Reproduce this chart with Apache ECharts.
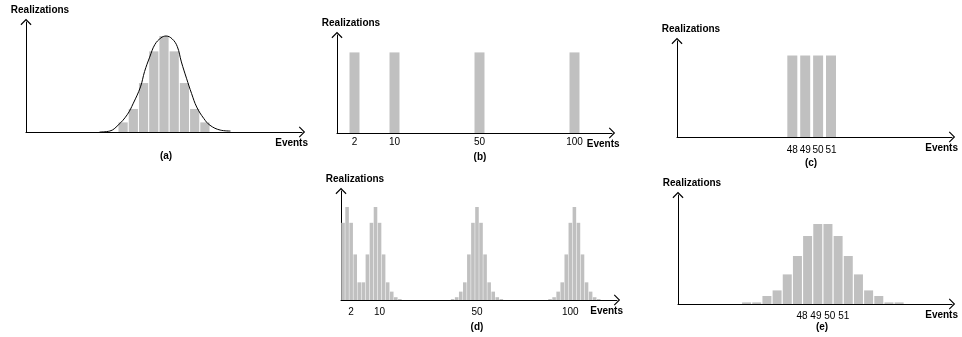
<!DOCTYPE html>
<html lang="en">
<head>
<meta charset="UTF-8">
<title>Realizations / Events</title>
<style>
    * { margin: 0; padding: 0; }
    #chart { width: 962px; height: 337px; background: #fff; }
</style>
<script src="https://cdn.jsdelivr.net/npm/echarts@6/dist/echarts.min.js"></script>
</head>
<body>
<div id="chart"></div>
<script>
// (a) histogram of realizations, one bar per slot, with the fitted curve on top
var aValues = [0, 0, 0, 0, 0, 0, 0, 0, 0,
    10, 24, 51, 84, 100, 84, 51, 24, 10,
    0, 0, 0, 0, 0, 0, 0, 0, 0];
// curve, x in slot units (slot i is centred on i + 0.5)
var aCurveX = [7.2, 8.2, 9.0, 9.9, 10.5, 11.2, 11.6, 12.1, 12.6, 13.2, 13.7,
    14.3, 14.8, 15.2, 15.7, 16.2, 16.7, 17.4, 18.0, 19.0, 20.0];
var aCurveY = [0, 1, 7, 18, 30, 47, 63, 78, 91, 98, 100,
    97, 89, 73, 56, 40, 26, 14, 7, 2, 1];

// (b) single events
var bValues = [0, 0, 0, 100, 0, 0, 0, 0, 0, 0, 0,
    100, 0, 0, 0, 0, 0, 0, 0, 0, 0, 0,
    0, 0, 0, 0, 0, 0, 100, 0, 0, 0, 0,
    0, 0, 0, 0, 0, 0, 0, 0, 0, 0, 0,
    0, 0, 0, 100, 0, 0, 0, 0, 0, 0, 0];
var bTickPos = [3, 11, 28, 47];
var bTickText = ['2', '10', '50', '100'];

// (c) four neighbouring events
var cEvents = [48, 49, 50, 51];
var cValues = [100, 100, 100, 100];

// (d) spread around 2, 10, 50 and 100
var dValues = [83, 100, 83, 49, 19, 19, 49, 83, 100, 83, 49, 19, 9, 3, 1,
    0, 0, 0, 0, 0, 0, 0, 0, 0, 0, 0, 0,
    1, 3, 9, 19, 49, 83, 100, 83, 49, 19, 9, 3, 1,
    0, 0, 0, 0, 0, 0, 0, 0, 0, 0, 0,
    1, 3, 9, 19, 49, 83, 100, 83, 49, 19, 9, 3, 1,
    0, 0, 0, 0];
var dTickPos = [2, 9, 33, 56];
var dTickText = ['2', '10', '50', '100'];

// (e) spread around 48..51
var eBins = [0, 1, 2, 3, 4, 5, 6, 7, 8, 9, 10, 11, 12, 13, 14, 15];
var eValues = [2, 2, 10, 17, 37, 60, 85, 100, 100, 85, 60, 37, 17, 10, 2, 2];
var eTickPos = [7.5];
var eTickText = ['48 49 50 51'];

var FONT = '"Liberation Sans", Arial, sans-serif';
var BAR = '#c0c0c0';
var ARROW = 'path://M5.5,0L11,5.5L10.2,6.3L5.5,1.6L0.8,6.3L0,5.5Z'; // open chevron

function axisLine() {
    return {
        show: true,
        onZero: false,
        symbol: ['none', ARROW],
        symbolSize: [11, 6.3],
        lineStyle: { color: '#000', width: 1 }
    };
}

function labelStyle(margin, extra) {
    return Object.assign({
        fontFamily: FONT, fontSize: 10, color: '#000', margin: margin
    }, extra);
}

function xAxis(grid, extra) {
    return Object.assign({
        gridIndex: grid,
        name: 'Events',
        nameLocation: 'end',
        nameGap: 6,
        nameTextStyle: {
            fontFamily: FONT, fontSize: 10, fontWeight: 'bold', color: '#000',
            align: 'right', verticalAlign: 'top', lineHeight: 12, padding: [5, 0, 0, 0]
        },
        axisLine: axisLine(),
        axisTick: { show: false },
        splitLine: { show: false }
    }, extra);
}

function yAxis(grid, max) {
    return {
        type: 'value',
        gridIndex: grid,
        min: 0,
        max: max,
        name: 'Realizations',
        nameLocation: 'end',
        nameGap: 6,
        nameTextStyle: {
            fontFamily: FONT, fontSize: 10, fontWeight: 'bold', color: '#000',
            align: 'center', verticalAlign: 'bottom', lineHeight: 12, padding: [0, 0, 0, 28]
        },
        axisLine: axisLine(),
        axisTick: { show: false },
        axisLabel: { show: false },
        splitLine: { show: false }
    };
}

function slotLabels(pos, text) {
    return function (v, i) {
        var k = pos.indexOf(i);
        return k >= 0 ? text[k] : '';
    };
}

function caption(text, x, y) {
    return {
        text: text, left: x, top: y, textAlign: 'center', padding: 0,
        textStyle: { fontFamily: FONT, fontSize: 10, fontWeight: 'bold', color: '#000', lineHeight: 12 }
    };
}

function bars(xi, yi, data, extra) {
    return Object.assign({
        type: 'bar', xAxisIndex: xi, yAxisIndex: yi, data: data, silent: true,
        itemStyle: { color: BAR }
    }, extra);
}

var chart = echarts.init(document.getElementById('chart'), null, { renderer: 'canvas' });

chart.setOption({
    animation: false,
    backgroundColor: '#fff',
    title: [
        caption('(a)', 166, 150),
        caption('(b)', 480, 151),
        caption('(c)', 811, 157),
        caption('(d)', 477, 321),
        caption('(e)', 822, 321)
    ],
    grid: [
        { left: 26, top: 22, width: 276, height: 110, outerBoundsMode: 'none' },
        { left: 337, top: 35, width: 275, height: 98, outerBoundsMode: 'none' },
        { left: 677, top: 41, width: 275, height: 96, outerBoundsMode: 'none' },
        { left: 341, top: 191, width: 276, height: 109, outerBoundsMode: 'none' },
        { left: 678, top: 195, width: 274, height: 109, outerBoundsMode: 'none' }
    ],
    xAxis: [
        xAxis(0, { type: 'category', data: aValues.map(function (v, i) { return i; }),
            axisLabel: { show: false } }),
        { type: 'value', gridIndex: 0, min: 0, max: aValues.length, show: false },
        xAxis(1, { type: 'category', data: bValues.map(function (v, i) { return i; }),
            axisLabel: labelStyle(4, { interval: 0, formatter: slotLabels(bTickPos, bTickText) }) }),
        xAxis(2, { type: 'value', min: 39.06, max: 60.38,
            axisLabel: labelStyle(8, { customValues: cEvents }) }),
        xAxis(3, { type: 'category', data: dValues.map(function (v, i) { return i; }),
            axisLabel: labelStyle(7, { interval: 0, formatter: slotLabels(dTickPos, dTickText) }) }),
        xAxis(4, { type: 'value', min: -6.745, max: 20.2,
            axisLabel: labelStyle(7, { customValues: eTickPos, formatter: function (v) {
                return eTickText[eTickPos.indexOf(v)] || '';
            } }) })
    ],
    yAxis: [
        yAxis(0, 114.6),
        yAxis(1, 121.6),
        yAxis(2, 117.8),
        yAxis(3, 117.2),
        yAxis(4, 136.2)
    ],
    series: [
        bars(0, 0, aValues, { barCategoryGap: '10%' }),
        {
            type: 'line', xAxisIndex: 1, yAxisIndex: 0, silent: true, z: 3,
            data: aCurveX.map(function (x, i) { return [x, aCurveY[i]]; }),
            smooth: 0.4, symbol: 'none',
            lineStyle: { color: '#000', width: 1 }
        },
        bars(2, 1, bValues, { barWidth: 10 }),
        bars(3, 2, cEvents.map(function (e, i) { return [e, cValues[i]]; }), { barWidth: 10 }),
        bars(4, 3, dValues, { barCategoryGap: '12%' }),
        bars(5, 4, eBins.map(function (b, i) { return [b, eValues[i]]; }), { barWidth: 9 })
    ]
});
</script>
</body>
</html>
